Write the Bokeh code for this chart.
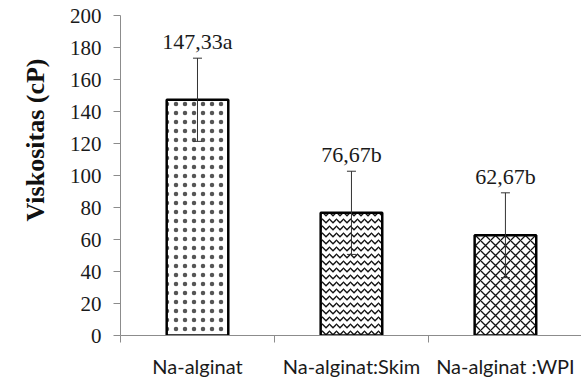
from bokeh.plotting import figure
from bokeh.models import ColumnDataSource, Range1d, FixedTicker, Whisker, Title, LabelSet
from bokeh.embed import file_html
from bokeh.resources import INLINE
from bokeh.core.properties import value

categories = ["Na-alginat", "Na-alginat:Skim", "Na-alginat :WPI"]
means = [147.33, 76.67, 62.67]
sds = [26.0, 26.0, 26.5]
labels = ["147,33a", "76,67b", "62,67b"]
patterns = ["dot", "horizontal_wave", "diagonal_cross"]
scales = [9, 7, 10]
weights = [0.5, 1.3, 1.3]
hcolors = ["#555555", "#111111", "#111111"]
y_ticks = [0, 20, 40, 60, 80, 100, 120, 140, 160, 180, 200]

xs = [i + 0.5 for i in range(len(categories))]
src = ColumnDataSource(dict(
    x=xs, top=means,
    upper=[m + s for m, s in zip(means, sds)],
    lower=[m - s for m, s in zip(means, sds)],
    label=labels, pattern=patterns, scale=scales, weight=weights, hcolor=hcolors,
))

p = figure(width=581, height=380, output_backend="svg", toolbar_location=None,
           x_range=Range1d(0, 2.994), y_range=Range1d(0, 200),
           min_border_left=120, min_border_right=0, min_border_top=15, min_border_bottom=43)
p.outline_line_color = None
p.grid.grid_line_color = None

p.vbar(x="x", top="top", bottom=0, width=0.4, source=src,
       fill_color="white", line_color="black", line_width=2.5,
       hatch_pattern="pattern", hatch_color="hcolor", hatch_scale="scale",
       hatch_weight="weight")

w = Whisker(source=src, base="x", upper="upper", lower="lower",
            line_color="#333333", line_width=1, level="overlay")
w.upper_head.size = 9
w.lower_head.size = 9
w.upper_head.line_color = "#333333"
w.lower_head.line_color = "#333333"
p.add_layout(w)

ls = LabelSet(x="x", y="upper", text="label", source=src, text_align="center",
              text_baseline="alphabetic", y_offset=9, text_font=value("Liberation Serif"),
              text_font_size="22px", text_color="#1a1a1a")
p.add_layout(ls)

grey = "#8c8c8c"
p.yaxis.ticker = FixedTicker(ticks=y_ticks)
p.yaxis.axis_line_color = grey
p.yaxis.major_tick_line_color = grey
p.yaxis.major_tick_out = 7
p.yaxis.major_tick_in = 0
p.yaxis.minor_tick_line_color = None
p.yaxis.major_label_text_font = "Liberation Serif"
p.yaxis.major_label_text_font_size = "21px"
p.yaxis.major_label_text_color = "#1a1a1a"
p.yaxis.major_label_standoff = 12

p.xaxis.ticker = FixedTicker(ticks=xs, minor_ticks=[0, 1, 2, 3])
p.xaxis.major_label_overrides = {x: c for x, c in zip(xs, categories)}
p.xaxis.axis_line_color = grey
p.xaxis.major_tick_out = 0
p.xaxis.major_tick_in = 0
p.xaxis.minor_tick_out = 7
p.xaxis.minor_tick_in = 0
p.xaxis.minor_tick_line_color = grey
p.xaxis.major_label_text_font = "Lato"
p.xaxis.major_label_text_font_size = "20px"
p.xaxis.major_label_text_color = "#1a1a1a"
p.xaxis.major_label_standoff = 11

title = Title(text="Viskositas (cP)", align="right", offset=43, standoff=30,
              vertical_align="top",
              text_font="Liberation Serif", text_font_style="bold",
              text_font_size="26px", text_color="#111111")
p.add_layout(title, "left")

open("out.html", "w").write(file_html(p, INLINE))
